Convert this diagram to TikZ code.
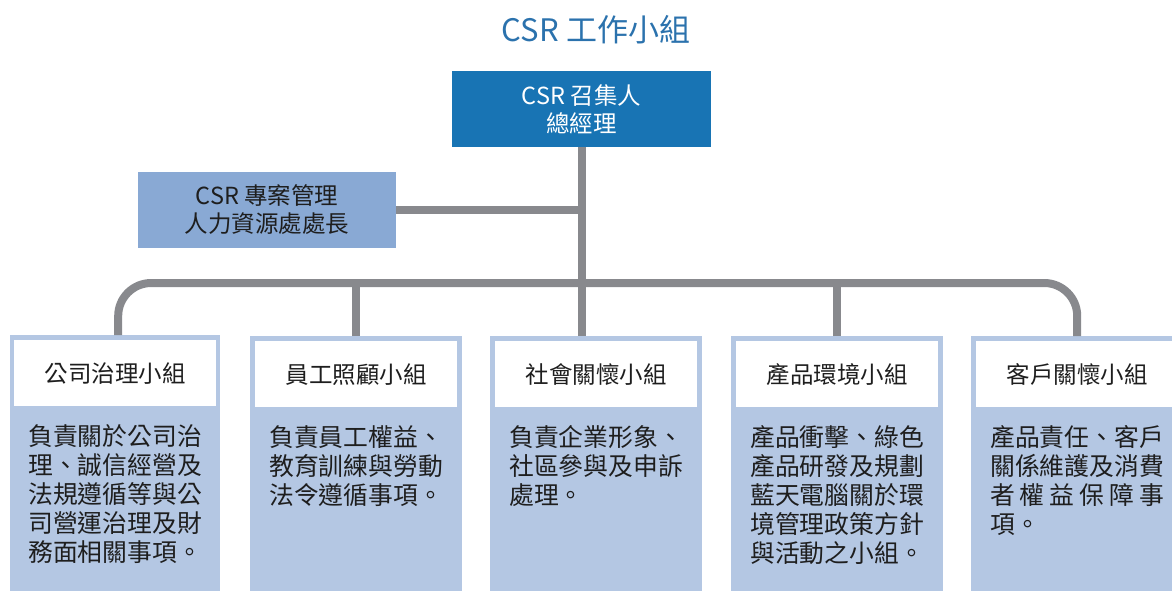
\documentclass[tikz,border=0pt]{standalone}
\usepackage{fontspec}
\setmainfont{Noto Sans CJK TC}
\definecolor{titleblue}{HTML}{2B72AD}
\definecolor{topblue}{HTML}{1874B4}
\definecolor{pmblue}{HTML}{89A9D4}
\definecolor{grpblue}{HTML}{B4C7E3}
\definecolor{linegray}{HTML}{88898D}
\definecolor{txt}{HTML}{1E1E1E}
\begin{document}
\begin{tikzpicture}[x=1pt,y=-1pt,
  conn/.style={draw=linegray,line width=8pt},
  grp/.style={fill=grpblue,draw=none,minimum width=212pt,minimum height=260pt,anchor=north west,inner sep=0pt},
  hdr/.style={fill=white,draw=none,minimum width=202pt,minimum height=66pt,anchor=north,inner sep=0pt,
    font=\fontsize{23.5}{28}\selectfont,text=txt},
  body/.style={anchor=north west,inner sep=0pt,text width=7em,align=left,
    font=\fontsize{24.8}{29}\selectfont,text=txt},
  boss/.style={fill=topblue,text=white,minimum width=259pt,minimum height=76pt,inner sep=0pt,align=center,
    font=\fontsize{23.5}{28}\selectfont},
  pmbox/.style={fill=pmblue,text=txt,minimum width=258pt,minimum height=76pt,inner sep=0pt,align=center,
    font=\fontsize{23.5}{28}\selectfont}]
\useasboundingbox (0,0) rectangle (1172,590);
\clip (0,0) rectangle (1172,590);

\node[text=titleblue,font=\fontsize{31}{36}\selectfont] (title) at (596,30) {CSR 工作小組};

\node[boss] (top) at (581.5,109) {CSR 召集人\\總經理};
\node[pmbox] (pm) at (267,210) {CSR 專案管理\\人力資源處處長};

\node[grp,minimum width=210pt] (g1) at (10,335) {};
\node[grp] (g2) at (250,336) {};
\node[grp] (g3) at (490,336) {};
\node[grp] (g4) at (731,336) {};
\node[grp] (g5) at (971,336) {};

\node[hdr] (h1) at ([yshift=-5pt]g1.north) {公司治理小組};
\node[hdr] (h2) at ([yshift=-5pt]g2.north) {員工照顧小組};
\node[hdr] (h3) at ([yshift=-5pt]g3.north) {社會關懷小組};
\node[hdr] (h4) at ([yshift=-5pt]g4.north) {產品環境小組};
\node[hdr] (h5) at ([yshift=-5pt]g5.north) {客戶關懷小組};

\node[body] (b1) at ([xshift=18pt,yshift=-89pt]g1.north west) {負責關於公司治\\理、誠信經營及\\法規遵循等與公\\司營運治理及財\\務面相關事項。};
\node[body] (b2) at ([xshift=19pt,yshift=-89pt]g2.north west) {負責員工權益、\\教育訓練與勞動\\法令遵循事項。};
\node[body] (b3) at ([xshift=19pt,yshift=-89pt]g3.north west) {負責企業形象、\\社區參與及申訴\\處理。};
\node[body] (b4) at ([xshift=19pt,yshift=-89pt]g4.north west) {產品衝擊、綠色\\產品研發及規劃\\藍天電腦關於環\\境管理政策方針\\與活動之小組。};
\node[body] (b5) at ([xshift=19pt,yshift=-89pt]g5.north west) {產品責任、客戶\\關係維護及消費\\\leavevmode\hbox to 7em{者\hfil 權\hfil 益\hfil 保\hfil 障\hfil 事}\\項。};

\coordinate (bus) at (581,283);
\draw[conn] (top.south) -- (top.south |- g3.north);
\draw[conn] (pm.east) -- (pm.east -| top.south);
\draw[conn,rounded corners=33pt] ([xshift=3pt]g1.north) |- (bus) -| (g5.north);
\draw[conn] (g2.north) -- (g2.north |- bus);
\draw[conn] (g4.north) -- (g4.north |- bus);
\end{tikzpicture}
\end{document}
